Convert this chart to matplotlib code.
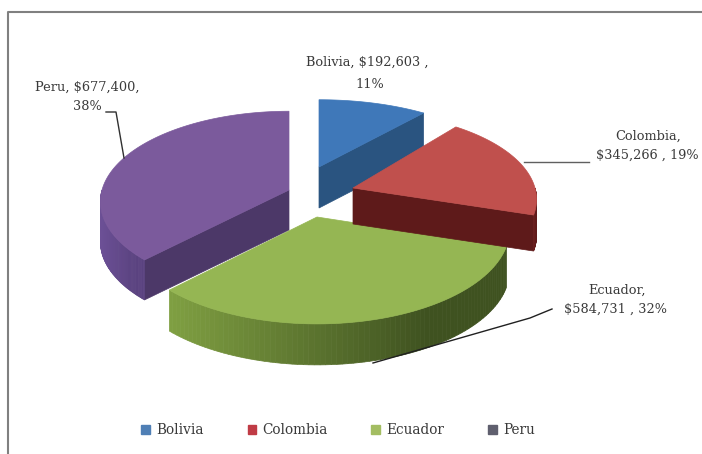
import numpy as np
import matplotlib
matplotlib.use("Agg")
import matplotlib.pyplot as plt
from matplotlib.colors import to_rgb
from matplotlib.patches import Patch

countries = ["Bolivia", "Colombia", "Ecuador", "Peru"]
sales = [192603, 345266, 584731, 677400]
percents = [11, 19, 32, 38]
top_colors = ["#3f78b9", "#c0504d", "#95b653", "#7b5a9c"]
side_colors = ["#2a5480", "#5e1a1a", "#4e6228", "#4c3868"]
rim_light = ["#2a5480", "#6a1f1f", "#80a042", "#6c5096"]
rim_dark = ["#2a5480", "#5e1a1a", "#3f5220", "#5a4280"]
legend_colors = ["#4f7fb5", "#c03b45", "#a3bd62", "#5f5f6e"]

# where each exploded slice sits on the page (pixels)
tip_x = [319, 353, 317, 289]
tip_y = [167, 188, 217, 190]
radius_x = [185, 182, 191, 187]
radius_y = [76, 86, 93, 89]
depth = [41, 36, 41, 40]
persp = 0.13

frac = np.array(sales) / sum(sales)
ends = np.cumsum(frac)
starts = ends - frac


def project(i, f):
    # f = fraction round the pie, clockwise from 12 o'clock
    f = np.asarray(f, dtype=float)
    u = np.sin(2 * np.pi * f)
    v = np.cos(2 * np.pi * f)
    s = 1 / (1 + persp * v)
    return tip_x[i] + radius_x[i] * u * s, tip_y[i] - radius_y[i] * v * s


def outer_side(i, a, b):
    # outer rim in strips, light on the left going darker to the right
    fs = np.linspace(a, b, 81)
    x, y = project(i, fs)
    c1 = np.array(to_rgb(rim_light[i]))
    c2 = np.array(to_rgb(rim_dark[i]))
    for j in range(len(fs) - 1):
        t = np.clip((x[j] - x.min()) / (x.max() - x.min()) * 1.3, 0, 1)
        ax.fill([x[j], x[j + 1], x[j + 1], x[j]],
                [y[j], y[j + 1], y[j + 1] + depth[i], y[j] + depth[i]],
                color=tuple(c1 + (c2 - c1) * t), lw=0.5, zorder=order[i])


def radial_side(i, f):
    x, y = project(i, f)
    ax.fill([tip_x[i], x, x, tip_x[i]],
            [tip_y[i], y, y + depth[i], tip_y[i] + depth[i]],
            color=side_colors[i], lw=0.5, zorder=order[i])


def top_face(i):
    x, y = project(i, np.linspace(starts[i], ends[i], 120))
    ax.fill(np.r_[tip_x[i], x], np.r_[tip_y[i], y],
            color=top_colors[i], lw=0.5, zorder=order[i] + 0.5)


fig = plt.figure(figsize=(7.02, 4.54), dpi=100)
ax = fig.add_axes([0, 0, 1, 1])
ax.set_xlim(0, 702)
ax.set_ylim(454, 0)
ax.axis("off")

order = [2, 4, 3, 1]  # peru at the back, colombia in front

radial_side(0, ends[0])
radial_side(1, ends[1])
outer_side(1, 0.25, ends[1])
outer_side(2, starts[2], ends[2])
radial_side(3, starts[3])
outer_side(3, starts[3], 0.75)
for i in range(4):
    top_face(i)

# frame of the chart
ax.plot([8, 8, 702], [454, 12, 12], color="#808080", lw=1.5, zorder=6)

# leader lines
ax.plot([106, 116, 124], [112, 112, 158], color="#303030", lw=1, zorder=6)
ax.plot([524, 589], [162, 162], color="#606060", lw=1, zorder=6)
ax.plot([373, 530, 552], [363, 318, 309], color="#202020", lw=1, zorder=6)

font = dict(family="DejaVu Serif", fontsize=9.3, color="#3a3a3a", ha="center", va="center")
ax.text(367, 62, "%s, $%s ," % (countries[0], format(sales[0], ",")), **font)
ax.text(370, 85, "%d%%" % percents[0], **font)
ax.text(648, 136, "%s," % countries[1], **font)
ax.text(647, 155, "$%s , %d%%" % (format(sales[1], ","), percents[1]), **font)
ax.text(617, 290, "%s," % countries[2], **font)
ax.text(615, 309, "$%s , %d%%" % (format(sales[2], ","), percents[2]), **font)
ax.text(87, 87, "%s, $%s," % (countries[3], format(sales[3], ",")), **font)
ax.text(87, 107, "%d%%" % percents[3], **font)

handles = [Patch(color=c, label=n) for c, n in zip(legend_colors, countries)]
leg = ax.legend(handles=handles, ncol=4, loc="center", bbox_to_anchor=(338 / 702, 1 - 430 / 454),
                frameon=False, handlelength=0.65, handleheight=0.65, handletextpad=0.45,
                columnspacing=3.2, prop=dict(family="DejaVu Serif", size=9.8))
for t in leg.get_texts():
    t.set_color("#3a3a3a")

fig.savefig("out.png", dpi=100)
